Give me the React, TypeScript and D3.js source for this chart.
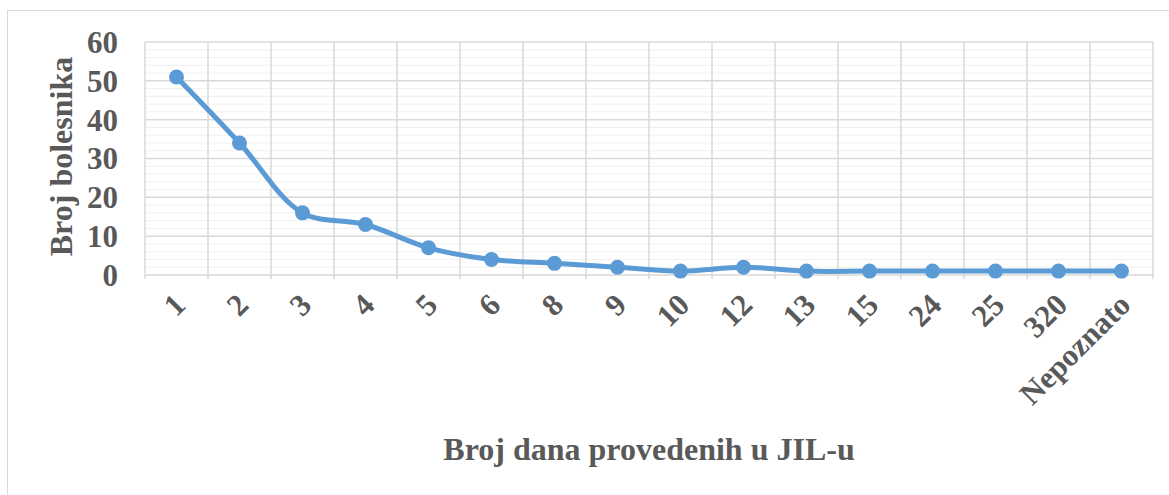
import React, { useRef, useEffect } from "react";
import * as d3 from "d3";

const categories = ["1", "2", "3", "4", "5", "6", "8", "9", "10", "12", "13", "15", "24", "25", "320", "Nepoznato"];
const values = [51, 34, 16, 13, 7, 4, 3, 2, 1, 2, 1, 1, 1, 1, 1, 1];
const yTicks = [0, 10, 20, 30, 40, 50, 60];

const App = () => {
  const svgRef = useRef<SVGSVGElement>(null);

  useEffect(() => {
    const W = 1169, H = 495;
    const margin = { top: 42, right: 16, bottom: 220, left: 145 };
    const width = 1153 - margin.left;
    const height = 275 - margin.top;
    const font = "Liberation Serif";
    const textColor = "#595959";

    const svg = d3.select(svgRef.current);
    svg.selectAll("*").remove();

    // chart border
    svg.append("rect")
      .attr("x", 7.5).attr("y", 10.5)
      .attr("width", W).attr("height", H)
      .attr("fill", "#fff").attr("stroke", "#d9d9d9");

    const x = d3.scaleBand().domain(categories).range([0, width]);
    const y = d3.scaleLinear().domain([0, 60]).range([height, 0]);

    const g = svg.append("g").attr("transform", `translate(${margin.left},${margin.top})`);

    // minor gridlines
    g.append("g").selectAll("line")
      .data(d3.range(0, 61, 2).filter(v => v % 10 !== 0))
      .join("line")
      .attr("x1", 0).attr("x2", width)
      .attr("y1", d => y(d)).attr("y2", d => y(d))
      .attr("stroke", "#f0f0f0").attr("stroke-width", 1);

    // major horizontal gridlines
    g.append("g").selectAll("line")
      .data(yTicks)
      .join("line")
      .attr("x1", 0).attr("x2", width)
      .attr("y1", d => y(d)).attr("y2", d => y(d))
      .attr("stroke", "#d9d9d9").attr("stroke-width", 1.5);

    // vertical gridlines at category boundaries
    g.append("g").selectAll("line")
      .data(d3.range(categories.length + 1))
      .join("line")
      .attr("x1", i => i * x.step()).attr("x2", i => i * x.step())
      .attr("y1", 0).attr("y2", height + 4)
      .attr("stroke", "#d9d9d9").attr("stroke-width", 1.5);

    const txt = (sel: any, size: number) =>
      sel.style("font-family", font).style("font-weight", "bold")
        .style("font-size", `${size}px`).attr("fill", textColor);

    // y tick labels
    g.append("g").selectAll("text")
      .data(yTicks)
      .join("text")
      .attr("x", -27).attr("y", d => y(d))
      .attr("dy", "0.35em")
      .attr("text-anchor", "end")
      .call(txt, 31)
      .text(d => d);

    // x tick labels
    g.append("g").selectAll("text")
      .data(categories)
      .join("text")
      .attr("transform", d => `translate(${x(d)! + x.bandwidth() / 2 + 3},${height + 24}) rotate(-45)`)
      .attr("text-anchor", "end")
      .attr("dy", "0.35em")
      .call(txt, 31)
      .text(d => d);

    // line
    const line = d3.line<number>()
      .x((d, i) => x(categories[i])! + x.bandwidth() / 2)
      .y(d => y(d))
      .curve(d3.curveCatmullRom.alpha(0.5));

    g.append("path")
      .datum(values)
      .attr("fill", "none")
      .attr("stroke", "#5b9bd5")
      .attr("stroke-width", 5)
      .attr("stroke-linejoin", "round")
      .attr("d", line);

    g.append("g").selectAll("circle")
      .data(values)
      .join("circle")
      .attr("cx", (d, i) => x(categories[i])! + x.bandwidth() / 2)
      .attr("cy", d => y(d))
      .attr("r", 7.5)
      .attr("fill", "#5b9bd5");

    // axis titles
    svg.append("text")
      .attr("transform", `translate(72,${margin.top + height / 2 - 2}) rotate(-90)`)
      .attr("text-anchor", "middle")
      .call(txt, 32)
      .text("Broj bolesnika");

    svg.append("text")
      .attr("x", 649).attr("y", 460)
      .attr("text-anchor", "middle")
      .call(txt, 32)
      .text("Broj dana provedenih u JIL-u");
  }, []);

  return (
    <>
      <svg ref={svgRef} width={1169} height={495} style={{ position: "absolute", left: 0, top: 0 }} />
    </>
  );
};

export default App;
